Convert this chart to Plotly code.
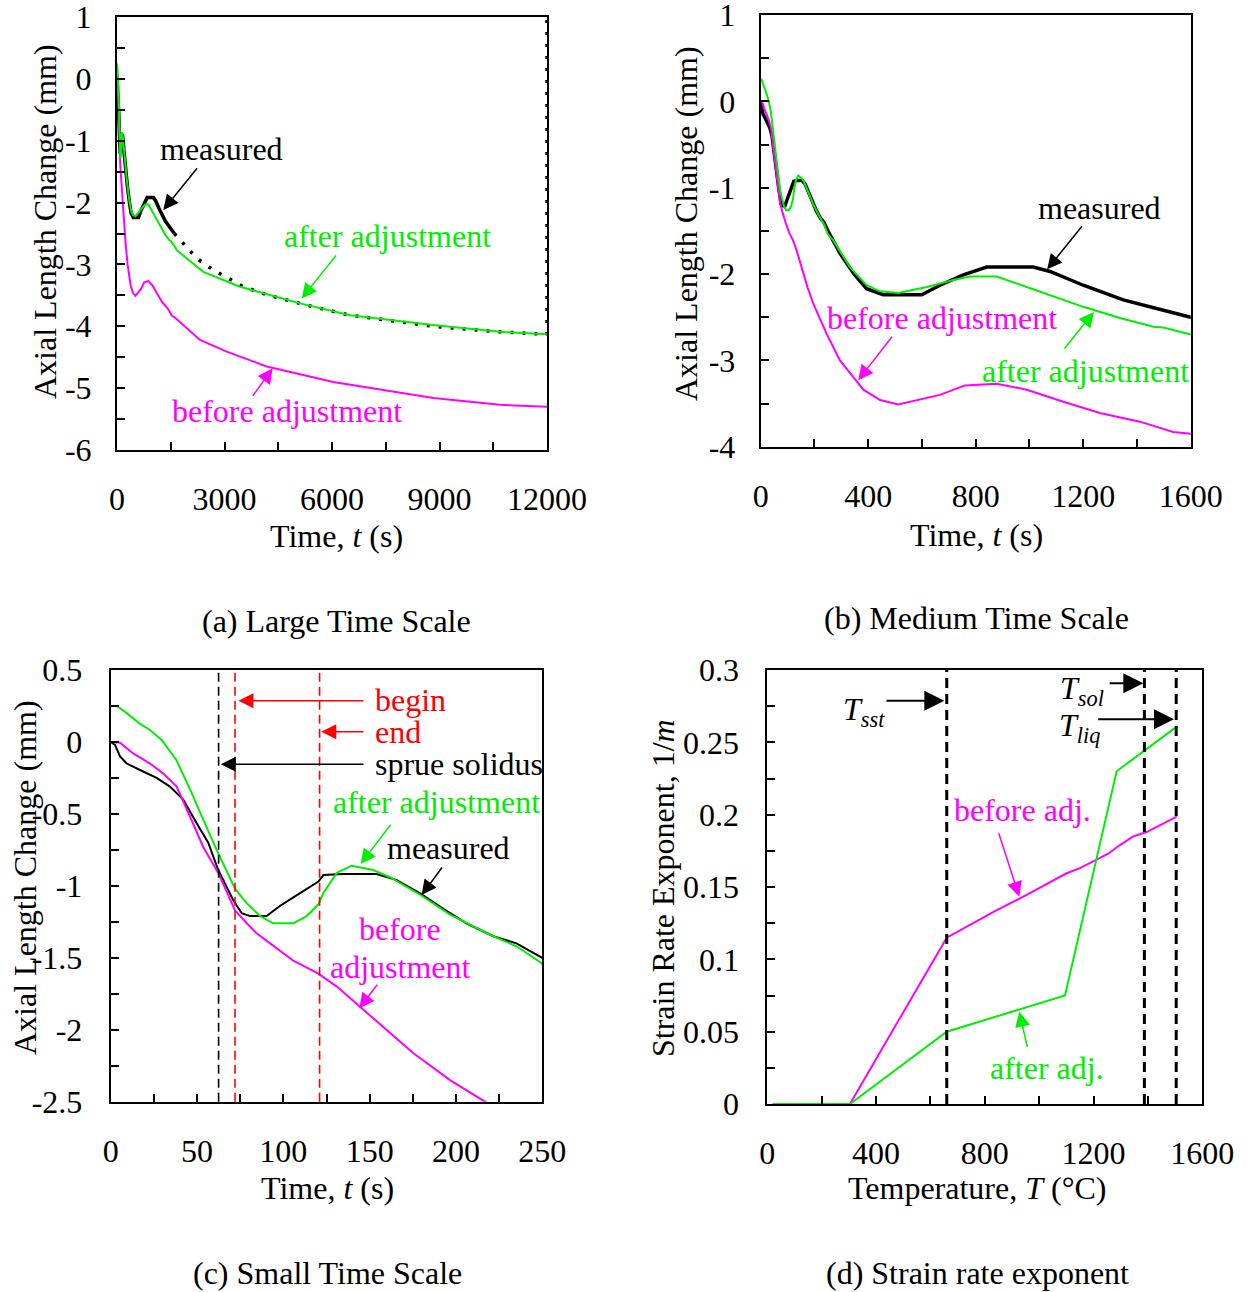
import plotly.graph_objects as go

W, H = 1252, 1292
FONT = "Liberation Serif, Times New Roman, serif"
FS = 32
GREEN = "#00ee00"
MAGENTA = "#ff00ff"
RED = "#ff0000"

# ---------------- data ----------------
# measured axial length change (mm) vs time (s)
meas_t = [0, 2.5, 5.4, 9.3, 17, 26.6, 34.3, 42, 49.8, 56.5, 62.3, 67.2, 71, 75.9, 80.7,
          90.3, 98, 105.8, 113.5, 120.3, 123.2, 134.7, 154, 165.7, 179, 192.7, 206,
          221.6, 235, 250, 295, 345, 394, 456, 599, 667, 754, 841, 1014, 1077, 1200,
          1349, 1473, 1600, 1990, 2224, 2688, 3061, 3526, 4178, 5295, 6502, 8828,
          10688, 12000, 12000]
meas_mm = [0, -0.02, -0.10, -0.15, -0.195, -0.25, -0.31, -0.40, -0.565, -0.70, -0.89,
           -1.01, -1.10, -1.19, -1.21, -1.21, -1.14, -1.08, -1.02, -0.97, -0.925, -0.918,
           -0.918, -0.96, -1.05, -1.16, -1.26, -1.35, -1.40, -1.50, -1.76, -1.99, -2.17,
           -2.24, -2.24, -2.13, -2.01, -1.92, -1.92, -1.97, -2.13, -2.30, -2.40, -2.50,
           -2.74, -2.90, -3.09, -3.21, -3.36, -3.49, -3.66, -3.82, -4.00, -4.09, -4.13, 1.0]

# simulation after adjustment
after_t = [0, 3.5, 9.3, 17, 22.8, 29.5, 38, 46, 53.6, 61.4, 72, 78.8, 86.5, 94.2, 105.8,
           113.5, 120.3, 123.2, 131, 139.6, 152, 161.8, 179, 196.5, 221.6, 235, 250, 270,
           332, 394, 444, 512, 618, 717, 779, 878, 990, 1200, 1337, 1461, 1498, 1600,
           1666, 2408, 3433, 5107, 6502, 8819, 10688, 12000]
after_mm = [0.25, 0.25, 0.20, 0.125, 0.083, 0.014, -0.125, -0.33, -0.54, -0.75, -1.02,
            -1.12, -1.21, -1.26, -1.26, -1.21, -1.13, -1.05, -0.91, -0.86, -0.89, -0.94,
            -1.06, -1.20, -1.35, -1.42, -1.54, -1.61, -1.92, -2.13, -2.20, -2.22, -2.15,
            -2.07, -2.03, -2.03, -2.15, -2.38, -2.51, -2.61, -2.62, -2.70, -2.77, -3.12,
            -3.36, -3.63, -3.82, -3.98, -4.09, -4.13]

# simulation before adjustment
before_t = [0, 5.4, 13, 22.8, 30.5, 38.2, 46, 53.6, 62.3, 72, 78.8, 84.5, 92.3, 105.8,
            120.3, 131, 144.4, 160, 175, 196.5, 216.8, 245, 295, 345, 382, 444, 512, 667,
            760, 878, 990, 1126, 1262, 1411, 1535, 1600, 2316, 3061, 4178, 6037, 8828,
            10688, 12000]
before_mm = [0, -0.005, -0.08, -0.15, -0.22, -0.31, -0.52, -0.73, -0.91, -1.17, -1.26,
             -1.33, -1.40, -1.52, -1.61, -1.70, -1.84, -2.00, -2.16, -2.35, -2.50, -2.69,
             -3.00, -3.19, -3.34, -3.46, -3.51, -3.40, -3.29, -3.27, -3.34, -3.48, -3.61,
             -3.71, -3.83, -3.85, -4.22, -4.41, -4.65, -4.90, -5.16, -5.27, -5.30]

# event times in the small time scale (s)
sprue_solidus_t = 62.5
mushy_begin_t = 72
mushy_end_t = 121

# strain rate exponent 1/m vs temperature (deg C)
temp_before = [20, 304, 660, 844, 954, 1101, 1150, 1254, 1297, 1346, 1395, 1506]
exp_before = [0, 0, 0.115, 0.134, 0.1445, 0.1595, 0.163, 0.173, 0.179, 0.185, 0.188, 0.1986]
temp_after = [20, 304, 660, 1095, 1285, 1383, 1500]
exp_after = [0, 0, 0.05, 0.075, 0.23, 0.2435, 0.26]
T_sst, T_sol, T_liq = 660, 1387, 1504

# tick labels
a_xticks = [0, 3000, 6000, 9000, 12000]
a_yticks = [1, 0, -1, -2, -3, -4, -5, -6]
b_xticks = [0, 400, 800, 1200, 1600]
b_yticks = [1, 0, -1, -2, -3, -4]
c_xticks = [0, 50, 100, 150, 200, 250]
c_yticks = [0.5, 0, -0.5, -1, -1.5, -2, -2.5]
d_xticks = [0, 400, 800, 1200, 1600]
d_yticks = [0, 0.05, 0.1, 0.15, 0.2, 0.25, 0.3]


def lbl(v):
    return "%g" % v


def px2paper(x, y):
    return x / W, 1 - y / H


def axis(dom, rng, vals, minor_dtick, anchor, standoff):
    return dict(
        domain=dom, range=rng, anchor=anchor, automargin=False,
        tickmode="array", tickvals=vals, ticktext=[lbl(v) for v in vals],
        ticks="inside", ticklen=8, tickwidth=1.5, tickcolor="black",
        showline=True, linecolor="black", linewidth=2, mirror=True,
        showgrid=False, zeroline=False, ticklabelstandoff=standoff,
        ticklabeloverflow="allow",
        tickfont=dict(family=FONT, size=FS, color="black"),
        minor=dict(tickmode="linear", tick0=rng[0], dtick=minor_dtick, ticks="inside",
                   ticklen=8, tickwidth=1.5, tickcolor="black", showgrid=False),
    )


def dom_x(l, r):
    return [l / W, r / W]


def dom_y(t, b):
    return [1 - b / H, 1 - t / H]


fig = go.Figure()


def line(x, y, xa, ya, color, width, dash="solid"):
    fig.add_trace(go.Scatter(x=x, y=y, xaxis=xa, yaxis=ya, mode="lines",
                             line=dict(color=color, width=width, dash=dash),
                             showlegend=False, hoverinfo="skip"))


# (a) large time scale: measured drawn solid early, sparse dots later
solid_idx = [i for i, t in enumerate(meas_t) if t <= 1600]
dot_idx = [i for i, t in enumerate(meas_t) if t >= 1600]
line([meas_t[i] for i in solid_idx], [meas_mm[i] for i in solid_idx], "x", "y", "black", 3.5)
line([meas_t[i] for i in dot_idx], [meas_mm[i] for i in dot_idx], "x", "y", "black", 3.5, "3px,9px")
line(before_t, before_mm, "x", "y", MAGENTA, 2)
line(after_t, after_mm, "x", "y", GREEN, 2)

# (b) medium time scale
line(meas_t, meas_mm, "x2", "y2", "black", 3.5)
line(before_t, before_mm, "x2", "y2", MAGENTA, 2)
line(after_t, after_mm, "x2", "y2", GREEN, 2)

# (c) small time scale
line(meas_t, meas_mm, "x3", "y3", "black", 2)
line(before_t, before_mm, "x3", "y3", MAGENTA, 2)
line(after_t, after_mm, "x3", "y3", GREEN, 2)

# (d) strain rate exponent
line(temp_before, exp_before, "x4", "y4", MAGENTA, 2)
line(temp_after, exp_after, "x4", "y4", GREEN, 2)

shapes = []
for xv, col in [(sprue_solidus_t, "black"), (mushy_begin_t, RED), (mushy_end_t, RED)]:
    shapes.append(dict(type="line", xref="x3", yref="y3 domain", x0=xv, x1=xv, y0=0, y1=1,
                       line=dict(color=col, width=1.6, dash="9px,5px")))
for xv in [T_sst, T_sol, T_liq]:
    shapes.append(dict(type="line", xref="x4", yref="y4 domain", x0=xv, x1=xv, y0=0, y1=1,
                       line=dict(color="black", width=3, dash="10px,6px")))

ann = []


def text(s, x, y, ref, color="black", xanchor="center", size=FS):
    ann.append(dict(text=s, x=x, y=y, xref="x" + ref, yref="y" + ref, showarrow=False,
                    xanchor=xanchor, yanchor="middle",
                    font=dict(family=FONT, size=size, color=color)))


def arrow(head, tail, ref, color="black", width=1.5, size=2.0):
    ann.append(dict(text="", x=head[0], y=head[1], ax=tail[0], ay=tail[1],
                    xref="x" + ref, yref="y" + ref, axref="x" + ref, ayref="y" + ref,
                    showarrow=True, arrowhead=2, arrowsize=size, arrowwidth=width,
                    arrowcolor=color, standoff=0, startstandoff=0))


def ptext(s, x, y, angle=0):
    px, py = px2paper(x, y)
    ann.append(dict(text=s, x=px, y=py, xref="paper", yref="paper", showarrow=False,
                    xanchor="center", yanchor="middle", textangle=angle,
                    font=dict(family=FONT, size=FS, color="black")))


# (a) labels
text("measured", 2930, -1.13, "")
arrow((1292, -2.12), (2269, -1.42), "")
text("after adjustment", 7549, -2.54, "", GREEN)
arrow((5155, -3.55), (6148, -2.83), "", GREEN)
text("before adjustment", 4758, -5.37, "", MAGENTA)
arrow((4345, -4.68), (3759, -5.15), "", MAGENTA)

# (b) labels
text("measured", 1262, -1.236, "2")
arrow((1066, -1.946), (1200, -1.43), "2")
text("before adjustment", 676, -2.51, "2", MAGENTA)
arrow((363, -3.23), (493, -2.71), "2", MAGENTA)
text("after adjustment", 1207, -3.12, "2", GREEN)
arrow((1240, -2.44), (1126, -2.88), "2", GREEN)

# (c) labels
text("begin", 152, 0.29, "3", RED, "left")
arrow((74, 0.287), (147.3, 0.287), "3", RED)
text("end", 152, 0.071, "3", RED, "left")
arrow((122, 0.071), (147.3, 0.071), "3", RED)
text("sprue solidus", 152, -0.153, "3", "black", "left")
arrow((63.8, -0.155), (147.3, -0.155), "3")
text("after adjustment", 188.7, -0.417, "3", GREEN)
arrow((144.8, -0.848), (162.8, -0.565), "3", GREEN)
text("measured", 195.4, -0.737, "3")
arrow((180.1, -1.064), (192.6, -0.862), "3")
text("before", 167.6, -1.30, "3", MAGENTA)
text("adjustment", 167.6, -1.564, "3", MAGENTA)
arrow((144, -1.851), (155, -1.677), "3", MAGENTA)

# (d) labels
text("<i>T</i><sub><i>sst</i></sub>", 357, 0.271, "4")
arrow((651, 0.2788), (433, 0.2788), "4", width=2)
text("<i>T</i><sub><i>sol</i></sub>", 1157, 0.286, "4")
arrow((1383, 0.2908), (1254, 0.2908), "4", width=2)
text("<i>T</i><sub><i>liq</i></sub>", 1150, 0.26, "4")
arrow((1496, 0.2659), (1211.5, 0.2659), "4", width=2)
text("before adj.", 938.6, 0.2032, "4", MAGENTA)
arrow((926.8, 0.1433), (849.6, 0.1882), "4", MAGENTA)
text("after adj.", 1027, 0.0249, "4", GREEN)
arrow((926.8, 0.0638), (957.7, 0.0385), "4", GREEN)

# axis titles and captions
ptext("Axial Length Change (mm)", 45, 222, -90)
ptext("Time, <i>t</i> (s)", 336, 536)
ptext("(a) Large Time Scale", 336, 621)
ptext("Axial Length Change (mm)", 686, 224, -90)
ptext("Time, <i>t</i> (s)", 976, 535)
ptext("(b) Medium Time Scale", 976, 618)
ptext("Axial Length Change (mm)", 25, 878, -90)
ptext("Time, <i>t</i> (s)", 327, 1188)
ptext("(c) Small Time Scale", 327, 1273)
ptext("Strain Rate Exponent, 1/<i>m</i>", 663, 888, -90)
ptext("Temperature, <i>T</i> (°C)", 977, 1188)
ptext("(d) Strain rate exponent", 977, 1273)

fig.update_layout(
    width=W, height=H, margin=dict(l=0, r=0, t=0, b=0, autoexpand=False),
    paper_bgcolor="white", plot_bgcolor="white", showlegend=False,
    font=dict(family=FONT, size=FS, color="black"),
    xaxis=axis(dom_x(117, 547), [0, 12000], a_xticks, 1500, "y", 20),
    yaxis=axis(dom_y(17, 450), [-6, 1], a_yticks, 0.5, "x", 17),
    xaxis2=axis(dom_x(760.7, 1190.7), [0, 1600], b_xticks, 200, "y2", 20),
    yaxis2=axis(dom_y(15, 446.7), [-4, 1], b_yticks, 0.5, "x2", 17),
    xaxis3=axis(dom_x(110.7, 542.3), [0, 250], c_xticks, 25, "y3", 20),
    yaxis3=axis(dom_y(670, 1101.7), [-2.5, 0.5], c_yticks, 0.25, "x3", 20),
    xaxis4=axis(dom_x(767.3, 1202.3), [0, 1600], d_xticks, 200, "y4", 20),
    yaxis4=axis(dom_y(670, 1104), [0, 0.3], d_yticks, 0.025, "x4", 20),
    shapes=shapes, annotations=ann,
)

fig.write_html("out.html")
